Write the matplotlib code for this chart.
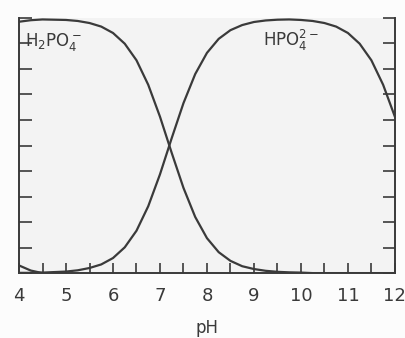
import numpy as np
import matplotlib
matplotlib.use('Agg')
import matplotlib.pyplot as plt

# fraction of each phosphate species vs pH
ph = [4.0, 4.25, 4.5, 4.75, 5.0, 5.25, 5.5, 5.75, 6.0, 6.25, 6.5, 6.75,
      7.0, 7.25, 7.5, 7.75, 8.0, 8.25, 8.5, 8.75, 9.0, 9.25, 9.5, 9.75,
      10.0, 10.25, 10.5, 10.75, 11.0, 11.25, 11.5, 11.75, 12.0]

h2po4 = [0.985, 0.991, 0.994, 0.993, 0.992, 0.988, 0.980, 0.966, 0.941, 0.899, 0.834, 0.738,
         0.613, 0.471, 0.334, 0.220, 0.137, 0.082, 0.048, 0.027, 0.016, 0.009, 0.005, 0.003,
         0.002, 0.0, 0.0, 0.0, 0.0, 0.0, 0.0, 0.0, 0.0]

hpo4 = [0.001, 0.001, 0.002, 0.004, 0.006, 0.011, 0.020, 0.034, 0.059, 0.101, 0.166, 0.262,
        0.387, 0.529, 0.666, 0.780, 0.863, 0.918, 0.952, 0.972, 0.984, 0.990, 0.993, 0.994,
        0.992, 0.988, 0.980, 0.966, 0.941, 0.899, 0.834, 0.738, 0.613]

# small H3PO4 tail at the far left
ph_h3 = [4.0, 4.25, 4.5]
h3po4 = [0.03, 0.01, 0.0]

xticks = [4, 5, 6, 7, 8, 9, 10, 11, 12]

ink = '#3a3a3a'

fig = plt.figure(figsize=(4.05, 3.38), dpi=100, facecolor='#fcfcfc')
ax = fig.add_axes([0.047, 0.192, 0.928, 0.755])
ax.set_facecolor('#f3f3f3')

ax.plot(ph, h2po4, color=ink, lw=1.6)
ax.plot(ph, hpo4, color=ink, lw=1.6)
ax.plot(ph_h3, h3po4, color=ink, lw=1.6)

ax.set_xlim(4, 12)
ax.set_ylim(0, 1)
ax.set_xticks(xticks)
ax.set_xticks(np.arange(4, 12.01, 0.5), minor=True)
ax.set_yticks(np.arange(0, 1.01, 0.1))
ax.set_yticklabels([])

ax.tick_params(axis='x', which='both', direction='in', length=7, width=1.2,
               color=ink, pad=10, labelsize=13, labelcolor=ink)
ax.tick_params(axis='y', direction='in', length=9, width=1.2, color=ink,
               left=True, right=True)

ax.spines['top'].set_visible(False)
for s in ['left', 'right', 'bottom']:
    ax.spines[s].set_color(ink)
    ax.spines[s].set_linewidth(1.4)

ax.text(4.13, 0.905, r'H$_2$PO$_4^-$', fontsize=12, color=ink, va='center', ha='left')
ax.text(9.2, 0.91, r'HPO$_4^{2-}$', fontsize=12, color=ink, va='center', ha='left')

ax.set_xlabel('pH', fontsize=12, color=ink, labelpad=10)

plt.savefig('out.png', dpi=100, facecolor=fig.get_facecolor())
